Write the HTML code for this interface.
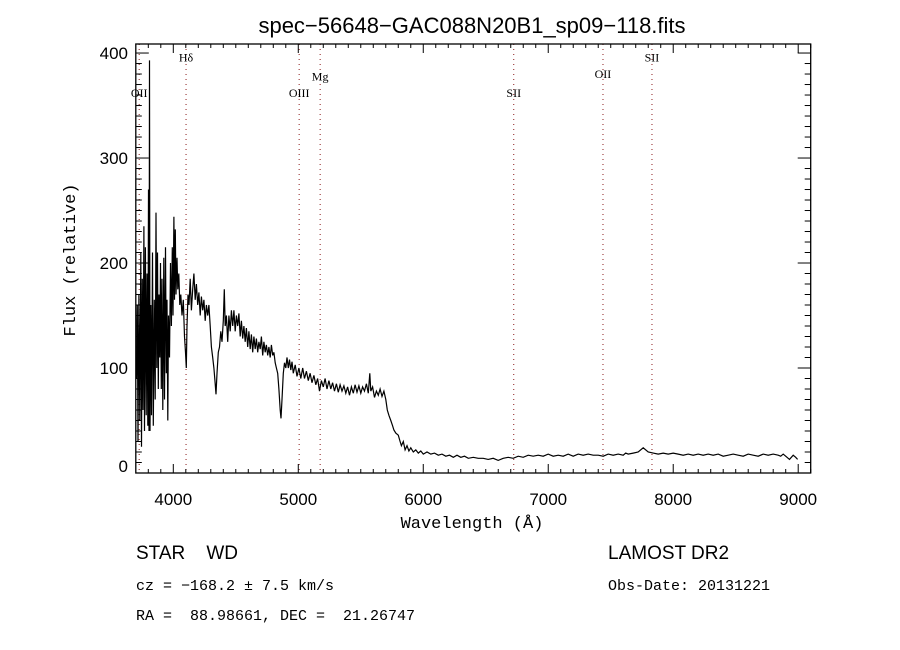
<!DOCTYPE html>
<html><head><meta charset="utf-8"><style>
body{margin:0;background:#fff;}
svg{display:block;}
text{fill:#000;}
</style></head><body>
<svg id="chart" width="900" height="650" xmlns="http://www.w3.org/2000/svg">
<rect x="0" y="0" width="900" height="650" fill="#fff"/>
<text x="472" y="33" text-anchor="middle" font-family="Liberation Sans, sans-serif" font-size="22">spec−56648−GAC088N20B1_sp09−118.fits</text>
<g id="lines"></g>
<g id="axes"></g>
<path id="spec" fill="none" stroke="#000" stroke-width="1.2"/>
<rect x="135.8" y="44" width="674.9" height="429" fill="none" stroke="#000" stroke-width="1.3"/>
<text x="472" y="528" text-anchor="middle" font-family="Liberation Mono, monospace" font-size="17">Wavelength (Å)</text>
<text transform="translate(75,260) rotate(-90)" text-anchor="middle" font-family="Liberation Mono, monospace" font-size="17">Flux (relative)</text>
<text x="136" y="559" font-family="Liberation Sans, sans-serif" font-size="19">STAR&#160;&#160;&#160;&#160;WD</text>
<text x="608" y="559" font-family="Liberation Sans, sans-serif" font-size="19">LAMOST DR2</text>
<text x="136" y="590" font-family="Liberation Mono, monospace" font-size="15">cz = −168.2 ± 7.5 km/s</text>
<text x="608" y="590" font-family="Liberation Mono, monospace" font-size="15">Obs-Date: 20131221</text>
<text x="136" y="620" font-family="Liberation Mono, monospace" font-size="15">RA =&#160;&#160;88.98661, DEC =&#160;&#160;21.26747</text>
</svg>
<script>
const lineNames = ["OII","Hδ","OIII","Mg","SII","OII","SII"];
const lineWaves = [3727,4102,5007,5175,6724,7438,7830];
const lineLabelFlux = [358,392,358,374,358,376,392];
const xTicks = [4000,5000,6000,7000,8000,9000];
const yTicks = [0,100,200,300,400];
const waves = [3705,3712,3718,3725,3732,3740,3746,3752,3758,3765,3770,3777,3783,3790,3796,3802,3806,3810,3814,3820,3826,3834,3840,3848,3855,3862,3868,3874,3880,3886,3892,3898,3904,3910,3916,3924,3930,3938,3944,3950,3956,3962,3970,3978,3985,3992,3998,4005,4010,4016,4022,4030,4036,4044,4052,4060,4070,4080,4090,4098,4104,4110,4118,4126,4135,4145,4155,4165,4175,4185,4195,4205,4215,4225,4235,4245,4255,4265,4275,4285,4295,4305,4315,4325,4335,4342,4350,4360,4370,4380,4390,4400,4408,4415,4425,4435,4445,4455,4465,4475,4485,4495,4505,4515,4525,4535,4545,4555,4565,4575,4585,4595,4605,4615,4625,4635,4645,4655,4665,4675,4685,4695,4705,4715,4725,4735,4745,4755,4765,4775,4785,4795,4805,4815,4825,4835,4845,4855,4862,4870,4880,4890,4900,4910,4920,4930,4940,4950,4960,4975,4990,5005,5020,5035,5050,5065,5080,5095,5110,5125,5140,5155,5170,5185,5200,5215,5230,5245,5260,5275,5290,5305,5320,5335,5350,5365,5380,5395,5410,5425,5440,5455,5470,5485,5500,5515,5530,5545,5560,5572,5580,5595,5610,5625,5640,5655,5670,5685,5700,5712,5725,5740,5755,5765,5780,5800,5815,5825,5840,5855,5870,5885,5900,5920,5940,5960,5980,6000,6030,6060,6090,6120,6150,6180,6210,6240,6270,6300,6330,6360,6400,6440,6480,6520,6560,6600,6640,6680,6720,6760,6800,6840,6880,6920,6960,7000,7040,7080,7120,7160,7200,7240,7280,7320,7360,7400,7440,7480,7520,7560,7600,7620,7640,7680,7720,7760,7800,7840,7880,7920,7960,8000,8040,8080,8120,8160,8200,8240,8280,8320,8360,8400,8440,8480,8520,8560,8600,8640,8680,8720,8760,8800,8840,8860,8880,8900,8930,8960,8980,8995];
const flux = [90,160,30,170,50,210,25,185,60,235,40,215,55,190,45,270,40,393,40,160,55,210,45,165,70,248,100,210,80,170,110,200,80,185,60,205,70,215,95,165,50,150,110,200,140,215,150,244,165,232,170,205,175,190,160,170,150,165,130,115,100,140,170,160,185,155,175,190,165,180,160,172,150,168,155,165,145,160,150,160,140,120,110,100,85,75,95,115,120,135,125,145,175,140,150,125,150,135,155,140,155,135,150,140,152,130,145,128,140,125,138,120,135,118,132,115,130,118,128,115,125,118,130,112,125,115,122,112,120,110,122,112,115,105,100,95,80,60,52,70,95,105,100,110,100,108,98,106,95,103,92,100,90,100,90,97,88,95,86,93,84,90,78,88,82,90,80,88,80,86,78,85,77,84,78,83,76,82,74,82,76,84,77,83,76,82,78,85,76,95,78,82,72,78,74,80,73,78,70,60,55,50,45,41,38,36,30,26,30,22,26,21,24,20,22,19,21,18,20,18,19,17,18,16,17,15,17,15,16,14,15,14,14,13,14,12,14,15,14,16,15,17,16,17,16,18,16,17,16,18,16,18,17,18,17,17,16,18,17,18,17,19,18,19,20,24,20,19,18,19,18,19,18,17,18,17,18,17,18,17,18,16,17,18,17,16,18,17,16,18,17,18,17,16,18,16,13,17,15,13,15,11,6,1];

const X0=135.8, X1=810.7, Y0=473, Y1=44, W0=3700, W1=9100, F0=0, F1=408.6;
function sx(w){return X0+(w-W0)/(W1-W0)*(X1-X0);}
function sy(f){return Y0-(f-F0)/(F1-F0)*(Y0-Y1);}
const NS='http://www.w3.org/2000/svg';
function mk(tag,attrs,parent){const e=document.createElementNS(NS,tag);for(const k in attrs)e.setAttribute(k,attrs[k]);parent.appendChild(e);return e;}

const axes=document.getElementById('axes');
for(let w=3800; w<=9100; w+=100){
  const major = w%1000===0;
  const L = major?9:4;
  const t1=mk('line',{x1:sx(w),x2:sx(w),y1:Y0,y2:Y0-L,stroke:'#000','stroke-width':1},axes);
  
  
  const t2=mk('line',{x1:sx(w),x2:sx(w),y1:Y1,y2:Y1+L,stroke:'#000','stroke-width':1},axes);
  
  
}
xTicks.forEach(w=>{
  const t=mk('text',{x:sx(w),y:505,'text-anchor':'middle','font-family':'Liberation Sans, sans-serif','font-size':17},axes);
  t.textContent=w;
  
  
});
for(let f=0; f<=400; f+=10){
  const major = f%100===0;
  const L = major?13:6;
  const t1=mk('line',{x1:X0,x2:X0+L,y1:sy(f),y2:sy(f),stroke:'#000','stroke-width':1},axes);
  
  
  const t2=mk('line',{x1:X1,x2:X1-L,y1:sy(f),y2:sy(f),stroke:'#000','stroke-width':1},axes);
  
  
}
yTicks.forEach(f=>{
  const yy = f===0 ? sy(f)-1 : sy(f)+6;
  const t=mk('text',{x:128,y:yy,'text-anchor':'end','font-family':'Liberation Sans, sans-serif','font-size':17},axes);
  t.textContent=f;
  
  
});

const lg=document.getElementById('lines');
lineWaves.forEach((w,i)=>{
  const l=mk('line',{x1:sx(w),x2:sx(w),y1:Y1,y2:Y0,stroke:'#8b1a1a','stroke-width':1,'stroke-dasharray':'1 4'},lg);
  
  
  const t=mk('text',{x:sx(w),y:sy(lineLabelFlux[i]),'text-anchor':'middle','font-family':'Liberation Serif, serif','font-size':12},lg);
  t.textContent=lineNames[i];
  
  
});

let d='';
waves.forEach((w,i)=>{d+=(i?'L':'M')+sx(w).toFixed(1)+' '+sy(flux[i]).toFixed(1);});
document.getElementById('spec').setAttribute('d',d);
</script>
</body></html>
